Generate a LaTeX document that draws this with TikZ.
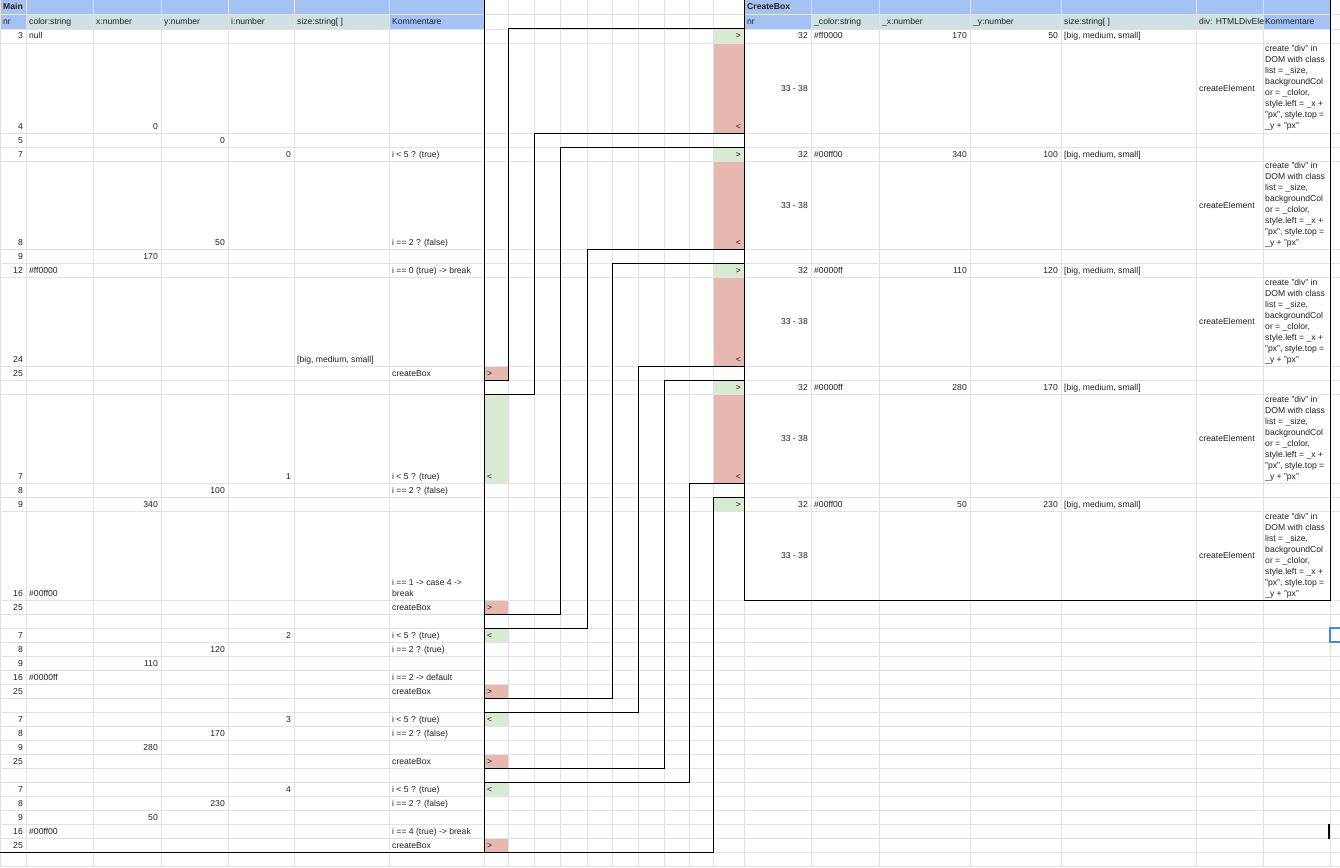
\documentclass[tikz,border=0pt]{standalone}
\usepackage{fontspec}
\setmainfont{Liberation Sans}
\definecolor{hblue}{HTML}{A4C2F4}
\definecolor{hgray}{HTML}{D0E0E3}
\definecolor{cgreen}{HTML}{D9EAD3}
\definecolor{cred}{HTML}{E6B8AF}
\definecolor{gridc}{HTML}{E2E2E2}
\definecolor{ink}{HTML}{222222}
\definecolor{selblue}{HTML}{4A86E8}
\newcounter{nn}
\newcommand\cellL[3]{\stepcounter{nn}\node[txt,anchor=base west] (t\arabic{nn}) at (#1+3,#2+3) {#3};}
\newcommand\cellR[3]{\stepcounter{nn}\node[txt,anchor=base east] (t\arabic{nn}) at (#1-3,#2+3) {#3};}
\tikzset{
  txt/.style={font=\fontsize{8.6}{10}\selectfont, text=ink, inner sep=0pt},
  conn/.style={draw=black, line width=1pt},
  gridline/.style={draw=gridc, line width=0.8pt}
}
\begin{document}
\begin{tikzpicture}[x=1pt,y=-1pt]
\useasboundingbox (0,0) rectangle (1340,867);
\fill[white] (0,0) rectangle (1340,867);
% header fills
\fill[hblue] (0,0) rectangle (484,14);
\fill[hgray] (0,14) rectangle (484,29);
\fill[hblue] (0,14) rectangle (26,29);
\fill[hblue] (389,14) rectangle (484,29);
\fill[hblue] (744,0) rectangle (1330,14);
\fill[hgray] (744,14) rectangle (1330,29);
\fill[hblue] (744,14) rectangle (811,29);
\fill[hblue] (1263,14) rectangle (1330,29);
% coloured marker cells
\foreach \a/\b in {366/380,600/614,684/698,754/768,838/852} {\fill[cred] (484,\a) rectangle (508,\b);}
\foreach \a/\b in {394/483,628/642,712/726,782/796} {\fill[cgreen] (484,\a) rectangle (508,\b);}
\foreach \a/\b in {29/43,147/161,263/277,380/394,497/511} {\fill[cgreen] (713,\a) rectangle (744,\b);}
\foreach \a/\b in {43/133,161/249,277/366,394/483} {\fill[cred] (713,\a) rectangle (744,\b);}
% grid
\foreach \x in {0,26,93,161,228,294,389,484,508,534,560,587,612,638,664,689,713,744,811,879,970,1061,1196,1263,1330} {\draw[gridline] (\x,0) -- (\x,867);}
\foreach \y in {14,29,43,133,147,161,249,263,277,366,380,394,483,497,511,600,614,628,642,656,670,684,698,712,726,740,754,768,782,796,810,824,838,852,866} {\draw[gridline] (0,\y) -- (1340,\y);}
% Main texts
\cellL{0}{7}{\textbf{Main}}
\cellL{0}{21.5}{nr}
\cellL{26}{21.5}{color:string}
\cellL{93}{21.5}{x:number}
\cellL{161}{21.5}{y:number}
\cellL{228}{21.5}{i:number}
\cellL{294}{21.5}{size:string[ ]}
\cellL{389}{21.5}{Kommentare}
\cellR{26}{36}{3} \cellL{26}{36}{null}
\cellR{26}{126}{4} \cellR{161}{126}{0}
\cellR{26}{140}{5} \cellR{228}{140}{0}
\cellR{26}{154}{7} \cellR{294}{154}{0} \cellL{389}{154}{i < 5 ? (true)}
\cellR{26}{242}{8} \cellR{228}{242}{50} \cellL{389}{242}{i == 2 ? (false)}
\cellR{26}{256}{9} \cellR{161}{256}{170}
\cellR{26}{270}{12} \cellL{26}{270}{\#ff0000} \cellL{389}{270}{i == 0 (true) -> break}
\cellR{26}{359}{24} \cellL{294}{359}{[big, medium, small]}
\cellR{26}{373}{25} \cellL{389}{373}{createBox}
\cellR{26}{476}{7} \cellR{294}{476}{1} \cellL{389}{476}{i < 5 ? (true)}
\cellR{26}{490}{8} \cellR{228}{490}{100} \cellL{389}{490}{i == 2 ? (false)}
\cellR{26}{504}{9} \cellR{161}{504}{340}
\cellR{26}{593}{16} \cellL{26}{593}{\#00ff00} \cellL{389}{582}{i == 1 -> case 4 ->} \cellL{389}{593}{break}
\cellR{26}{607}{25} \cellL{389}{607}{createBox}
\cellR{26}{635}{7} \cellR{294}{635}{2} \cellL{389}{635}{i < 5 ? (true)}
\cellR{26}{649}{8} \cellR{228}{649}{120} \cellL{389}{649}{i == 2 ? (true)}
\cellR{26}{663}{9} \cellR{161}{663}{110}
\cellR{26}{677}{16} \cellL{26}{677}{\#0000ff} \cellL{389}{677}{i == 2 -> default}
\cellR{26}{691}{25} \cellL{389}{691}{createBox}
\cellR{26}{719}{7} \cellR{294}{719}{3} \cellL{389}{719}{i < 5 ? (true)}
\cellR{26}{733}{8} \cellR{228}{733}{170} \cellL{389}{733}{i == 2 ? (false)}
\cellR{26}{747}{9} \cellR{161}{747}{280}
\cellR{26}{761}{25} \cellL{389}{761}{createBox}
\cellR{26}{789}{7} \cellR{294}{789}{4} \cellL{389}{789}{i < 5 ? (true)}
\cellR{26}{803}{8} \cellR{228}{803}{230} \cellL{389}{803}{i == 2 ? (false)}
\cellR{26}{817}{9} \cellR{161}{817}{50}
\cellR{26}{831}{16} \cellL{26}{831}{\#00ff00} \cellL{389}{831}{i == 4 (true) -> break}
\cellR{26}{845}{25} \cellL{389}{845}{createBox}
% marker texts
\cellL{484}{373}{>} \cellL{484}{476}{<} \cellL{484}{607}{>} \cellL{484}{635}{<} \cellL{484}{691}{>}
\cellL{484}{719}{<} \cellL{484}{761}{>} \cellL{484}{789}{<} \cellL{484}{845}{>}
\cellR{744}{36}{>} \cellR{744}{126}{<} \cellR{744}{154}{>} \cellR{744}{242}{<} \cellR{744}{270}{>}
\cellR{744}{359}{<} \cellR{744}{387}{>} \cellR{744}{476}{<} \cellR{744}{504}{>}
% CreateBox texts
\cellL{744}{7}{\textbf{CreateBox}}
\cellL{744}{21.5}{nr}
\cellL{811}{21.5}{\_color:string}
\cellL{879}{21.5}{\_x:number}
\cellL{970}{21.5}{\_y:number}
\cellL{1061}{21.5}{size:string[ ]}
\cellL{1196}{21.5}{div: HTMLDivEle}
\cellL{1262}{21.5}{Kommentare}
\foreach \ya/\ra/\rb/\col/\xv/\yv in {36/43/133/ff0000/170/50, 154/161/249/00ff00/340/100, 270/277/366/0000ff/110/120, 387/394/483/0000ff/280/170, 504/511/600/00ff00/50/230} {
  \cellR{811}{\ya}{32}
  \cellL{811}{\ya}{\#\col}
  \cellR{970}{\ya}{\xv}
  \cellR{1061}{\ya}{\yv}
  \cellL{1061}{\ya}{[big, medium, small]}
  \pgfmathsetmacro\cc{(\ra+\rb)/2}
  \cellR{811}{\cc}{33 - 38}
  \cellL{1196}{\cc}{createElement}
  \foreach \k/\s in {0/{create "div" in},1/{DOM with class},2/{list = \_size,},3/{backgroundCol},4/{or = \_clolor,},5/{style.left = \_x +},6/{"px", style.top =},7/{\_y + "px"}} {
    \pgfmathsetmacro\yy{\cc+(\k-3.5)*11-1}
    \cellL{1262}{\yy}{\s}
  }
}
% borders
\coordinate (mTR) at (484,0); \coordinate (mBR) at (484,852); \coordinate (mBL) at (0,852);
\coordinate (cTL) at (744,0); \coordinate (cBL) at (744,600); \coordinate (cBR) at (1330,600); \coordinate (cTR) at (1330,0);
\draw[conn] (mTR) -- (mBR) -- (mBL);
\draw[conn] (cTL) -- (cBL) -- (cBR) -- (cTR);
% calls
\coordinate (m1) at (484,380); \coordinate (k1) at (508,380); \coordinate (c1) at (744,29);
\coordinate (m2) at (484,614); \coordinate (k2) at (560,614); \coordinate (c2) at (744,147);
\coordinate (m3) at (484,698); \coordinate (k3) at (612,698); \coordinate (c3) at (744,263);
\coordinate (m4) at (484,768); \coordinate (k4) at (664,768); \coordinate (c4) at (744,380);
\coordinate (m5) at (484,852); \coordinate (k5) at (713,852); \coordinate (c5) at (744,497);
\foreach \i in {1,...,5} {\draw[conn] (m\i) -- (k\i) |- (c\i);}
% returns
\coordinate (rb1) at (744,133); \coordinate (rk1) at (534,133); \coordinate (rm1) at (484,394);
\coordinate (rb2) at (744,249); \coordinate (rk2) at (587,249); \coordinate (rm2) at (484,628);
\coordinate (rb3) at (744,366); \coordinate (rk3) at (638,366); \coordinate (rm3) at (484,712);
\coordinate (rb4) at (744,483); \coordinate (rk4) at (689,483); \coordinate (rm4) at (484,782);
\foreach \i in {1,...,4} {\draw[conn] (rb\i) -- (rk\i) |- (rm\i);}
% selection and cursor
\coordinate (s1) at (1341,628); \coordinate (s2) at (1330,628); \coordinate (s3) at (1330,642); \coordinate (s4) at (1341,642);
\draw[selblue, line width=1.2pt] (s1) -- (s2) -- (s3) -- (s4);
\coordinate (b1) at (1329,824); \coordinate (b2) at (1329,839);
\draw[black, line width=1.5pt] (b1) -- (b2);
\end{tikzpicture}
\end{document}
